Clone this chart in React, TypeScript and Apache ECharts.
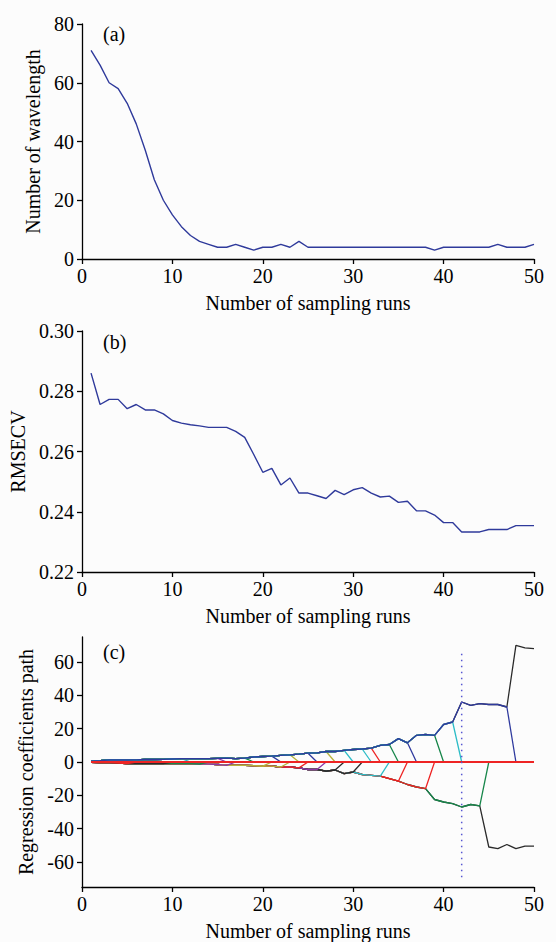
import React, { useEffect, useRef } from "react";
import * as echarts from "echarts";

// ---------- data ----------
const runs = [1, 2, 3, 4, 5, 6, 7, 8, 9, 10, 11, 12, 13, 14, 15, 16, 17, 18, 19, 20, 21, 22, 23, 24, 25,
  26, 27, 28, 29, 30, 31, 32, 33, 34, 35, 36, 37, 38, 39, 40, 41, 42, 43, 44, 45, 46, 47, 48, 49, 50];

// (a) number of wavelengths retained per sampling run
const wavelengths = [71, 66, 60, 58, 53, 46, 37, 27, 20, 15, 11, 8, 6, 5, 4, 4, 5, 4, 3, 4,
  4, 5, 4, 6, 4, 4, 4, 4, 4, 4, 4, 4, 4, 4, 4, 4, 4, 4, 3, 4,
  4, 4, 4, 4, 4, 5, 4, 4, 4, 5];

// (b) RMSECV per sampling run
const rmsecv = [0.286, 0.2756, 0.2773, 0.2773, 0.2742, 0.2756, 0.2738, 0.2738, 0.2725, 0.2703,
  0.2694, 0.2689, 0.2685, 0.268, 0.268, 0.268, 0.2667, 0.2647, 0.259, 0.2531,
  0.2544, 0.2489, 0.2512, 0.2462, 0.2462, 0.2453, 0.2444, 0.2471, 0.2457, 0.2473,
  0.248, 0.2462, 0.2449, 0.2452, 0.2431, 0.2435, 0.2403, 0.2403, 0.2389, 0.2364,
  0.2364, 0.2333, 0.2333, 0.2333, 0.2341, 0.2341, 0.2341, 0.2354, 0.2354, 0.2354];

// (c) coefficient paths: upper (positive) bundle for runs 1..47, lower (negative) bundle for runs 1..44
const upperBundle = [0.5, 0.8, 1.2, 1.3, 1.2, 1.3, 1.5, 1.5, 1.6, 1.8, 2, 2, 2, 2, 2.2, 2.3, 2, 2.3, 3, 3.3,
  3.5, 4, 4.3, 4.7, 5.3, 5.5, 6.3, 6.3, 7, 7.5, 7.8, 8.3, 10, 10.5, 14, 11.5, 16, 16.5, 16, 22.5,
  24, 36, 34, 35, 34.5, 34.5, 33];
const lowerBundle = [-0.2, -0.3, -0.4, -0.6, -1, -1, -1, -1, -1, -1, -1, -1, -1.2, -1.2, -1.5, -2, -2, -2, -2.2, -2.5,
  -2.5, -3, -3, -3.5, -4.5, -4.5, -5.5, -4.8, -7, -6, -7.5, -8, -8.5, -10, -11.5, -13.5, -15, -16, -22.5, -24,
  -25, -27, -25.5, -26.3];
const upperTail = [70, 68.5, 68]; // runs 48..50
const lowerTail = [-51, -52, -49.5, -52, -50.5, -50.5]; // runs 45..50

// run at which each variable is eliminated (coefficient -> 0)
const upperExitRuns = [8, 12, 16, 19, 22, 24, 26, 28, 30, 32, 33, 35, 37, 40, 42, 48];
const upperExitColors = ["g", "c", "m", "g", "b", "y", "b", "y", "c", "c", "r", "g", "b", "g", "c", "b"];
const lowerExitRuns = [45, 39, 36, 34, 31, 29, 27, 25, 23, 21, 17, 14, 10, 6];
const lowerExitColors = ["g", "r", "r", "c", "k", "k", "m", "r", "y", "y", "m", "g", "k", "r"];

const zeroLineRuns = [1, 50];
const optimalRun = 42;
const optimalSpan = [65, -71];

// ---------- styles ----------
const palette: Record<string, string> = {
  b: "#2f3a9e",
  g: "#17864a",
  r: "#ee2424",
  c: "#2cbcc6",
  m: "#8b3aa8",
  y: "#b6b23a",
  k: "#2a2a2a",
};
const FONT = "'Liberation Serif', 'Times New Roman', serif";
const LINE_BLUE = "#2f3a9b";

function exitPath(bundle: number[], exit: number) {
  const pts: number[][] = [];
  for (let r = 1; r < exit; r++) pts.push([r, bundle[r - 1]]);
  pts.push([exit, 0]);
  return pts;
}

function withTail(bundle: number[], tail: number[]) {
  const pts: number[][] = bundle.map((v, i) => [runs[i], v]);
  tail.forEach((v, i) => pts.push([runs[bundle.length + i], v]));
  return pts;
}

export default function App() {
  const ref = useRef<HTMLDivElement>(null);

  useEffect(() => {
    if (!ref.current) return;
    const chart = echarts.init(ref.current, undefined, { renderer: "svg" });

    const axisLine = { lineStyle: { color: "#000", width: 1.3 } };
    const axisTick = { length: 5, lineStyle: { color: "#000", width: 1.3 } };
    const label = { color: "#000", fontSize: 20, fontFamily: FONT };
    const nameStyle = { color: "#000", fontSize: 20, fontFamily: FONT };

    const xAxis = [0, 1, 2].map((g) => ({
      type: "value",
      gridIndex: g,
      min: 0,
      max: 50,
      interval: 10,
      name: "Number of sampling runs",
      nameLocation: "middle",
      nameGap: 34,
      nameTextStyle: nameStyle,
      axisLine: { ...axisLine, onZero: false },
      axisTick,
      axisLabel: { ...label, margin: 7 },
      splitLine: { show: false },
    }));

    const cTicks = [-60, -40, -20, 0, 20, 40, 60];

    const yAxis = [
      {
        type: "value",
        gridIndex: 0,
        min: 0,
        max: 80,
        interval: 20,
        name: "Number of wavelength",
        nameLocation: "middle",
        nameGap: 37,
        nameTextStyle: nameStyle,
        axisLine,
        axisTick,
        axisLabel: { ...label, margin: 8 },
        splitLine: { show: false },
      },
      {
        type: "value",
        gridIndex: 1,
        min: 0.22,
        max: 0.3,
        interval: 0.02,
        name: "RMSECV",
        nameLocation: "middle",
        nameGap: 52,
        nameTextStyle: nameStyle,
        axisLine,
        axisTick,
        axisLabel: { ...label, margin: 8, formatter: (v: number) => v.toFixed(2) },
        splitLine: { show: false },
      },
      {
        type: "value",
        gridIndex: 2,
        min: -75,
        max: 75,
        name: "Regression coefficients path",
        nameLocation: "middle",
        nameGap: 44,
        nameTextStyle: nameStyle,
        axisLine: { ...axisLine, onZero: false },
        axisTick: { ...axisTick, customValues: cTicks },
        axisLabel: { ...label, margin: 8, customValues: cTicks },
        splitLine: { show: false },
      },
    ];

    const lineBase = {
      type: "line",
      showSymbol: false,
      symbol: "none",
      silent: true,
      xAxisIndex: 2,
      yAxisIndex: 2,
    };

    const series: any[] = [
      {
        type: "line",
        xAxisIndex: 0,
        yAxisIndex: 0,
        showSymbol: false,
        symbol: "none",
        data: runs.map((r, i) => [r, wavelengths[i]]),
        lineStyle: { color: LINE_BLUE, width: 1.4 },
      },
      {
        type: "line",
        xAxisIndex: 1,
        yAxisIndex: 1,
        showSymbol: false,
        symbol: "none",
        data: runs.map((r, i) => [r, rmsecv[i]]),
        lineStyle: { color: LINE_BLUE, width: 1.4 },
      },
      {
        ...lineBase,
        data: withTail(upperBundle, upperTail),
        lineStyle: { color: palette.k, width: 1.3 },
      },
      {
        ...lineBase,
        data: withTail(lowerBundle, lowerTail),
        lineStyle: { color: palette.k, width: 1.3 },
      },
    ];

    lowerExitRuns.forEach((ex, i) => {
      series.push({
        ...lineBase,
        data: exitPath(lowerBundle, ex),
        lineStyle: { color: palette[lowerExitColors[i]], width: 1.3 },
      });
    });
    upperExitRuns.forEach((ex, i) => {
      series.push({
        ...lineBase,
        data: exitPath(upperBundle, ex),
        lineStyle: { color: palette[upperExitColors[i]], width: 1.3 },
      });
    });

    series.push({
      ...lineBase,
      data: zeroLineRuns.map((r) => [r, 0]),
      lineStyle: { color: palette.r, width: 1.8 },
    });
    series.push({
      ...lineBase,
      data: optimalSpan.map((v) => [optimalRun, v]),
      lineStyle: { color: "#5656d2", width: 1.5, type: [1.5, 4.5] },
    });

    const panelLabel = (t: string, y: number) => ({
      type: "text",
      left: 103,
      top: y,
      style: { text: t, fontSize: 20, fontFamily: FONT, fill: "#000" },
    });

    chart.setOption({
      animation: false,
      backgroundColor: "#fcfcfc",
      grid: [
        { left: 82, width: 452, top: 24, height: 235 },
        { left: 82, width: 452, top: 331, height: 241 },
        { left: 82, width: 452, top: 637, height: 254 },
      ],
      xAxis,
      yAxis,
      series,
      graphic: [panelLabel("(a)", 24), panelLabel("(b)", 332), panelLabel("(c)", 642)],
    });

    return () => chart.dispose();
  }, []);

  return (
    <div
      ref={ref}
      style={{ position: "fixed", left: 0, top: 0, width: 556, height: 942, background: "#fcfcfc" }}
    />
  );
}
